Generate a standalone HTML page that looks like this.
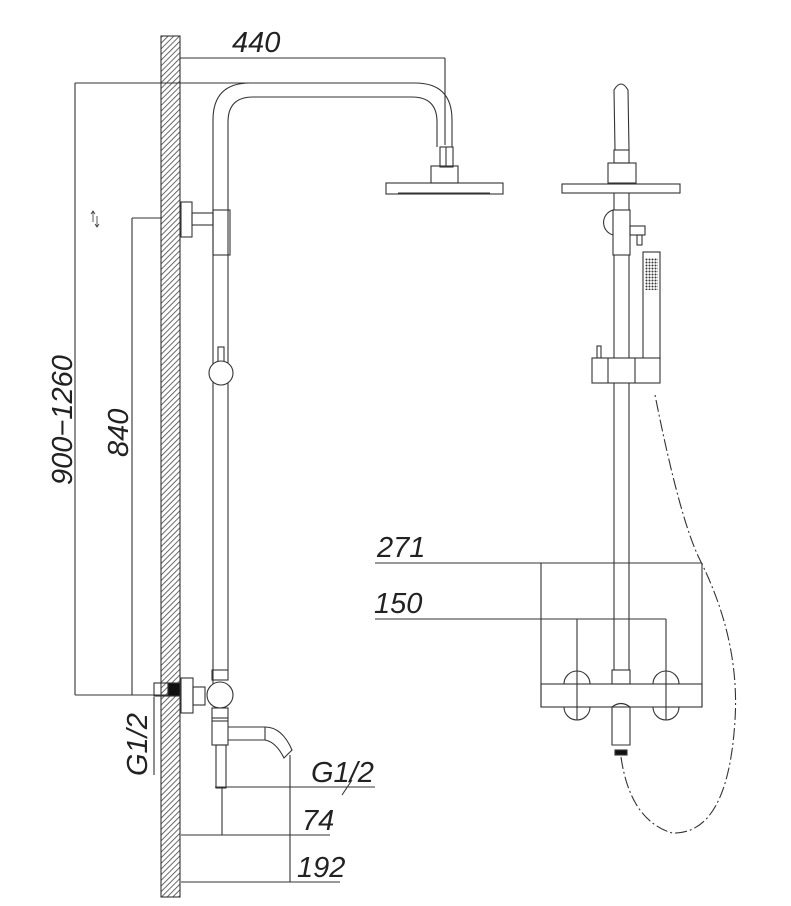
<!DOCTYPE html>
<html><head><meta charset="utf-8"><style>
html,body{margin:0;padding:0;background:#fff}
svg{display:block}
text{font-family:"Liberation Sans",sans-serif;font-style:italic;fill:#222;font-size:29px}
</style></head><body>
<svg width="791" height="906" viewBox="0 0 791 906" xmlns="http://www.w3.org/2000/svg">
<defs>
<pattern id="h" width="4" height="4" patternUnits="userSpaceOnUse" patternTransform="rotate(45)">
<rect width="4" height="4" fill="#fff"/><line x1="0" y1="0" x2="0" y2="4" stroke="#444" stroke-width="1.6"/>
</pattern>
<pattern id="m" width="3" height="3" patternUnits="userSpaceOnUse"><rect width="3" height="3" fill="#fff"/><circle cx="1.5" cy="1.5" r="1" fill="#333"/></pattern>
</defs>
<g fill="none" stroke="#333" stroke-width="1.1">
<rect x="161" y="36" width="19" height="861" fill="url(#h)" stroke="#333"/>
<line x1="180" y1="58" x2="445" y2="58"/><line x1="445" y1="58" x2="445" y2="145"/>
<line x1="75" y1="83" x2="250" y2="83"/>
<line x1="75" y1="83" x2="75" y2="695"/>
<line x1="75" y1="695" x2="170" y2="695"/>
<line x1="132" y1="218" x2="162" y2="218"/><line x1="132" y1="218" x2="132" y2="695"/>
<line x1="154" y1="697" x2="154" y2="775"/>
<path d="M93 212 v10 M91 214 l2 -3 l2 3 M97 216 v10 M95 224 l2 3 l2 -3" stroke-width="0.8"/>
<path d="M213 690 V120 Q213 83 250 83 H415 Q452 83 452 120 V147"/>
<path d="M228 670 V122 Q228 97 253 97 H412 Q437 97 437 122 V147"/>
<rect x="440" y="147" width="13" height="20"/>
<line x1="446" y1="147" x2="446" y2="167"/>
<rect x="431" y="166" width="27" height="17"/>
<rect x="386" y="183" width="117" height="11"/>
<line x1="398" y1="193" x2="490" y2="193"/>
<rect x="181" y="202" width="11" height="35"/>
<rect x="192" y="213" width="21" height="12"/>
<rect x="213" y="210" width="17" height="45"/>
<rect x="218" y="347" width="6" height="15"/>
<circle cx="221" cy="373" r="12" fill="#fff"/>
<rect x="154" y="683" width="14" height="13"/>
<rect x="168" y="683" width="12" height="13" fill="#111"/>
<rect x="181" y="678" width="12" height="35"/>
<rect x="193" y="687" width="12" height="18"/>
<rect x="212" y="670" width="16" height="10"/>
<circle cx="220" cy="695" r="13" fill="#fff"/>
<rect x="212" y="708" width="16" height="37"/>
<line x1="212" y1="718" x2="228" y2="718"/><line x1="212" y1="721" x2="228" y2="721"/>
<path d="M228 727 H265 Q282 727 292 750 L284 758 Q276 742 265 740 H228"/>
<line x1="265" y1="727" x2="265" y2="740"/>
<rect x="216" y="745" width="10" height="43"/>
<line x1="215" y1="787" x2="375" y2="787"/><line x1="342" y1="795" x2="352" y2="780"/>
<line x1="222" y1="787" x2="222" y2="835"/>
<line x1="181" y1="835" x2="330" y2="835"/>
<line x1="290" y1="755" x2="290" y2="882"/>
<line x1="181" y1="882" x2="340" y2="882"/>
<path d="M615 150 L614 90 Q621 78 628 90 L629 150"/>
<rect x="614" y="150" width="15" height="13"/>
<rect x="608" y="163" width="28" height="20"/>
<rect x="562" y="184" width="118" height="9"/>
<path d="M614 193 V670 M629 193 V670"/>
<path d="M613 210 A13 13 0 0 0 613 235"/>
<rect x="613" y="210" width="17" height="45" fill="#fff"/>
<rect x="630" y="226" width="15" height="9"/>
<rect x="637" y="235" width="5" height="10"/>
<rect x="643" y="252" width="17" height="108"/>
<rect x="645" y="258" width="13" height="32" fill="url(#m)" stroke="none"/>
<rect x="597" y="346" width="4" height="12"/>
<rect x="592" y="358" width="68" height="25" fill="#fff"/>
<line x1="608" y1="358" x2="608" y2="383"/><line x1="635" y1="358" x2="635" y2="383"/>
<line x1="375" y1="563" x2="702" y2="563"/>
<line x1="541" y1="563" x2="541" y2="707"/><line x1="702" y1="563" x2="702" y2="707"/>
<line x1="375" y1="619" x2="666" y2="619"/>
<line x1="577" y1="619" x2="577" y2="720"/><line x1="666" y1="619" x2="666" y2="720"/>
<rect x="541" y="684" width="161" height="23"/>
<path d="M564 684 A13 13 0 0 1 590 684 M564 707 A13 13 0 0 0 590 707 M653 684 A13 13 0 0 1 679 684 M653 707 A13 13 0 0 0 679 707"/>
<rect x="612" y="670" width="18" height="14"/>
<path d="M612 707 Q621 700 630 707 V745 H612 Z"/>
<rect x="615" y="750" width="12" height="5" fill="#111"/>
<path d="M621 757 Q630 820 672 833 Q728 835 735 720 Q740 640 700 560 Q680 520 655 395" stroke-dasharray="12 3 2 3"/>
</g>
<text x="232" y="52">440</text>
<text transform="translate(72,485) rotate(-90)">900−1260</text>
<text transform="translate(128,457) rotate(-90)">840</text>
<text transform="translate(147,776) rotate(-90)">G1/2</text>
<text x="311" y="782">G1/2</text>
<text x="302" y="830">74</text>
<text x="297" y="877">192</text>
<text x="377" y="557">271</text>
<text x="374" y="613">150</text>
</svg>
</body></html>
